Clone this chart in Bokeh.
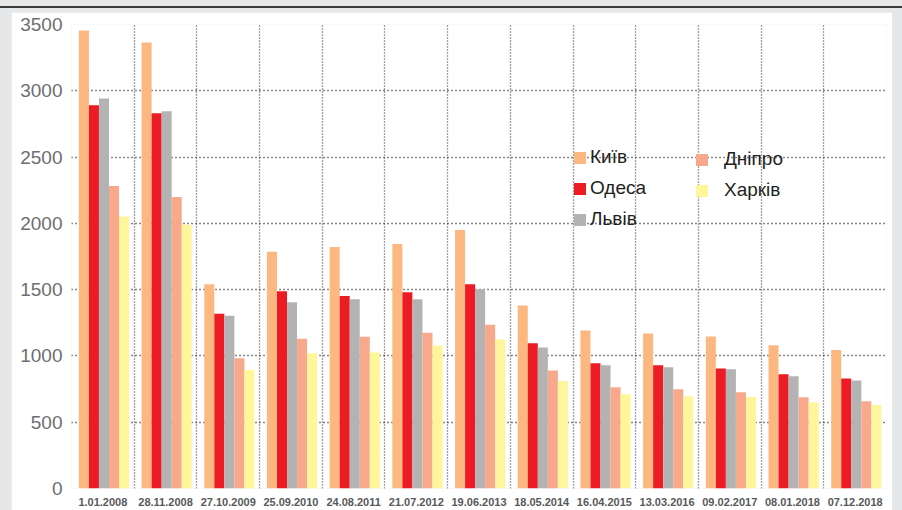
import numpy as np
from bokeh.plotting import figure
from bokeh.models import (Range1d, FixedTicker, Legend, LegendItem, Div,
                          ColumnDataSource)
from bokeh.layouts import column
from bokeh.transform import dodge
from bokeh.embed import file_html
from bokeh.resources import INLINE

# ---------------- data ----------------
dates = ["1.01.2008", "28.11.2008", "27.10.2009", "25.09.2010", "24.08.2011",
         "21.07.2012", "19.06.2013", "18.05.2014", "16.04.2015", "13.03.2016",
         "09.02.2017", "08.01.2018", "07.12.2018"]
kyiv    = [3455, 3364, 1540, 1785, 1822, 1845, 1950, 1380, 1192, 1170, 1147, 1080, 1045]
odesa   = [2890, 2830, 1318, 1488, 1452, 1480, 1540, 1095, 944, 929, 906, 861, 830]
lviv    = [2942, 2845, 1303, 1405, 1428, 1428, 1503, 1064, 930, 914, 899, 846, 815]
dnipro  = [2282, 2198, 983, 1130, 1145, 1175, 1235, 891, 763, 748, 726, 688, 658]
kharkiv = [2052, 1990, 894, 1020, 1026, 1078, 1123, 810, 710, 695, 690, 650, 630]
series_names = ["Київ", "Одеса", "Львів", "Дніпро", "Харків"]
y_ticks = [0, 500, 1000, 1500, 2000, 2500, 3000, 3500]

# ---------------- styling ----------------
colors = ["#FDB882", "#ED1C24", "#B3B3B3", "#F8A98C", "#FFF59A"]
offsets = [-0.302, -0.142, 0.018, 0.178, 0.338]
bar_w = 0.16

n = len(dates)
centers = [i + 0.5 for i in range(n)]
src = ColumnDataSource(dict(x=centers, kyiv=kyiv, odesa=odesa, lviv=lviv,
                            dnipro=dnipro, kharkiv=kharkiv))
keys = ["kyiv", "odesa", "lviv", "dnipro", "kharkiv"]

p = figure(width=881, height=498, output_backend="svg", toolbar_location=None,
           x_range=Range1d(0, n), y_range=Range1d(0, y_ticks[-1]),
           min_border_left=60, min_border_right=6, min_border_top=12,
           min_border_bottom=22, margin=(4, 10, 0, 11))
p.background_fill_color = "white"
p.border_fill_color = "white"
p.outline_line_color = None

renderers = []
for k, c, off in zip(keys, colors, offsets):
    r = p.vbar(x=dodge("x", off, range=p.x_range), top=k, width=bar_w,
               bottom=0, source=src, fill_color=c, line_color=None)
    renderers.append(r)

# axes
p.yaxis.ticker = FixedTicker(ticks=y_ticks)
p.yaxis.axis_line_color = None
p.yaxis.major_tick_line_color = None
p.yaxis.minor_tick_line_color = None
p.yaxis.major_tick_out = 0
p.yaxis.major_tick_in = 0
p.yaxis.major_label_standoff = 9
p.yaxis.major_label_text_font = "Liberation Sans"
p.yaxis.major_label_text_font_size = "19px"
p.yaxis.major_label_text_color = "#6d6e71"

p.xaxis.ticker = FixedTicker(ticks=centers)
p.xaxis.major_label_overrides = {c: d for c, d in zip(centers, dates)}
p.xaxis.axis_line_color = None
p.xaxis.major_tick_line_color = None
p.xaxis.minor_tick_line_color = None
p.xaxis.major_tick_out = 0
p.xaxis.major_tick_in = 0
p.xaxis.major_label_standoff = 9
p.xaxis.major_label_text_font = "Liberation Sans"
p.xaxis.major_label_text_font_style = "bold"
p.xaxis.major_label_text_font_size = "11px"
p.xaxis.major_label_text_color = "#58595b"

# grids
p.ygrid.ticker = FixedTicker(ticks=y_ticks)
p.ygrid.grid_line_color = "#111111"
p.ygrid.grid_line_dash = "1 3"
p.ygrid.grid_line_width = 1.5
p.xgrid.ticker = FixedTicker(ticks=list(range(1, n + 1)))
p.xgrid.grid_line_color = "#444444"
p.xgrid.grid_line_dash = "1 2"
p.xgrid.grid_line_width = 1.3

# legends (two columns)
def make_legend(idx, loc, standoff):
    lg = Legend(items=[LegendItem(label=series_names[i], renderers=[renderers[i]]) for i in idx],
                location=loc, orientation="vertical", padding=0, margin=0,
                spacing=9, glyph_width=15, glyph_height=15, label_height=20,
                label_standoff=standoff, label_text_font="Liberation Sans",
                label_text_font_size="19px", label_text_color="#231f20",
                background_fill_alpha=0, border_line_alpha=0)
    return lg

p.add_layout(make_legend([0, 1, 2], (501, 258), 3), "center")
p.add_layout(make_legend([3, 4], (623, 287), 15), "center")

top_line = Div(text="", width=902, height=2, margin=(6, 0, 0, 0),
               styles={"background-color": "#3a3a3a"})
layout = column(top_line, p, width=902, height=510, spacing=0,
                styles={"background-color": "#e6e7e8"})

open("out.html", "w").write(file_html(layout, INLINE))
